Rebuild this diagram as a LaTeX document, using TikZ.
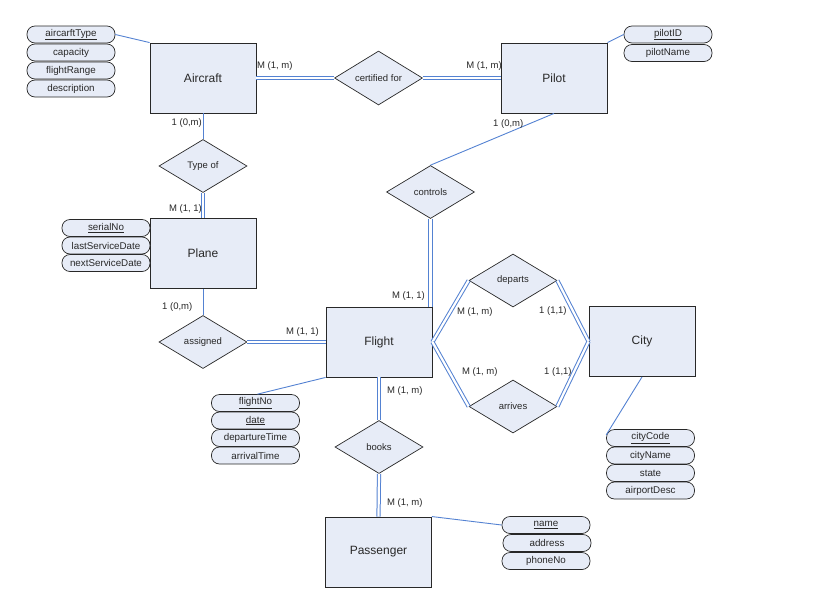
\documentclass[tikz,border=0pt]{standalone}
\usepackage{fontspec}
\setmainfont{Liberation Sans}
\usetikzlibrary{shapes.geometric}
\definecolor{lblue}{RGB}{231,236,247}
\definecolor{lnk}{RGB}{84,130,210}
\definecolor{edgec}{RGB}{40,40,40}
\begin{document}
\begin{tikzpicture}[x=1pt,y=-1pt,
  entity/.style={draw=edgec, fill=lblue, line width=0.9pt, minimum width=106pt, minimum height=70pt, inner sep=0pt, text=edgec, font=\fontsize{12}{14}\selectfont},
  rel/.style={diamond, draw=edgec, fill=lblue, line width=0.7pt, minimum width=88pt, minimum height=53pt, inner sep=0pt, text=edgec, font=\fontsize{9.5}{11}\selectfont},
  attr/.style={draw=edgec, fill=lblue, line width=0.7pt, rounded corners=8pt, minimum width=88pt, minimum height=17pt, inner sep=0pt, text=edgec, font=\fontsize{9.8}{11}\selectfont},
  lbl/.style={inner sep=0pt, text=edgec, font=\fontsize{9.5}{11}\selectfont},
  one/.style={draw=lnk, line width=0.9pt},
  two/.style={draw=lnk, double=white, line width=1pt, double distance=2.2pt}
]
\useasboundingbox (0,0) rectangle (836,606);

% entities
\node[entity] (aircraft) at (203,78) {Aircraft};
\node[entity] (pilot) at (554,78) {Pilot};
\node[entity] (plane) at (203,253.5) {Plane};
\node[entity] (flight) at (379,342) {Flight};
\node[entity] (city) at (642,341.5) {City};
\node[entity] (passenger) at (378.5,552) {Passenger};

% relationships
\node[rel] (certified) at (378.5,78) {certified for};
\node[rel] (typeof) at (203,166) {Type of};
\node[rel] (assigned) at (203,342) {assigned};
\node[rel] (controls) at (430.5,192) {controls};
\node[rel] (departs) at (513,280.5) {departs};
\node[rel] (arrives) at (513,406.5) {arrives};
\node[rel] (books) at (379,447) {books};

% attributes
\node[attr] (a1) at (71,34.5) {\underline{aircarftType}};
\node[attr] (a2) at (71,52.5) {capacity};
\node[attr] (a3) at (71,70.5) {flightRange};
\node[attr] (a4) at (71,88.5) {description};

\node[attr] (p1) at (668,34.5) {\underline{pilotID}};
\node[attr] (p2) at (668,53) {pilotName};

\node[attr] (s1) at (106,228) {\underline{serialNo}};
\node[attr] (s2) at (106,245.5) {lastServiceDate};
\node[attr] (s3) at (106,263) {nextServiceDate};

\node[attr] (f1) at (255.5,403) {\underline{flightNo}};
\node[attr] (f2) at (255.5,420.5) {\underline{date}};
\node[attr] (f3) at (255.5,438) {departureTime};
\node[attr] (f4) at (255.5,455.5) {arrivalTime};

\node[attr] (c1) at (650.5,438) {\underline{cityCode}};
\node[attr] (c2) at (650.5,455.5) {cityName};
\node[attr] (c3) at (650.5,473) {state};
\node[attr] (c4) at (650.5,490.5) {airportDesc};

\node[attr] (n1) at (546,525) {\underline{name}};
\node[attr] (n2) at (547,543) {address};
\node[attr] (n3) at (546,561) {phoneNo};

% attribute links
\draw[one] (aircraft.north west) -- (a1.east);
\draw[one] (pilot.north east) -- (p1.west);
\draw[one] (flight.south west) -- ([xshift=2pt]f1.north);
\draw[one] (city.south) -- ([yshift=3pt]c1.west);
\draw[one] (passenger.north east) -- (n1.west);

% relationship links
\draw[two] (aircraft.east) -- (certified.west);
\draw[two] (certified.east) -- (pilot.west);
\draw[one] (aircraft.south) -- (typeof.north);
\draw[two] (typeof.south) -- (plane.north);
\draw[one] (plane.south) -- (assigned.north);
\draw[two] (assigned.east) -- (flight.west);
\draw[one] (pilot.south) -- (controls.north);
\draw[two] (controls.south) -- (controls.south |- flight.north);
\draw[two] (flight.east) -- (departs.west);
\draw[two] (departs.east) -- (city.west);
\draw[two] (flight.east) -- (arrives.west);
\draw[two] (arrives.east) -- (city.west);
\draw[two] (flight.south) -- (books.north);
\draw[two] (books.south) -- (passenger.north);

% cardinality labels
\node[lbl, anchor=west] (l1) at (257,66) {M (1, m)};
\node[lbl, anchor=east] (l2) at (502,66) {M (1, m)};
\node[lbl, anchor=east] (l3) at (202,123) {1 (0,m)};
\node[lbl, anchor=west] (l4) at (493,124) {1 (0,m)};
\node[lbl, anchor=east] (l5) at (202,209) {M (1, 1)};
\node[lbl, anchor=west] (l6) at (162,307) {1 (0,m)};
\node[lbl, anchor=east] (l7) at (319,332) {M (1, 1)};
\node[lbl, anchor=east] (l8) at (425,296) {M (1, 1)};
\node[lbl, anchor=west] (l9) at (387,391) {M (1, m)};
\node[lbl, anchor=west] (l10) at (387,503) {M (1, m)};
\node[lbl, anchor=west] (l11) at (457,312) {M (1, m)};
\node[lbl, anchor=west] (l12) at (539,311) {1 (1,1)};
\node[lbl, anchor=west] (l13) at (462,372) {M (1, m)};
\node[lbl, anchor=west] (l14) at (544,372) {1 (1,1)};
\end{tikzpicture}
\end{document}
